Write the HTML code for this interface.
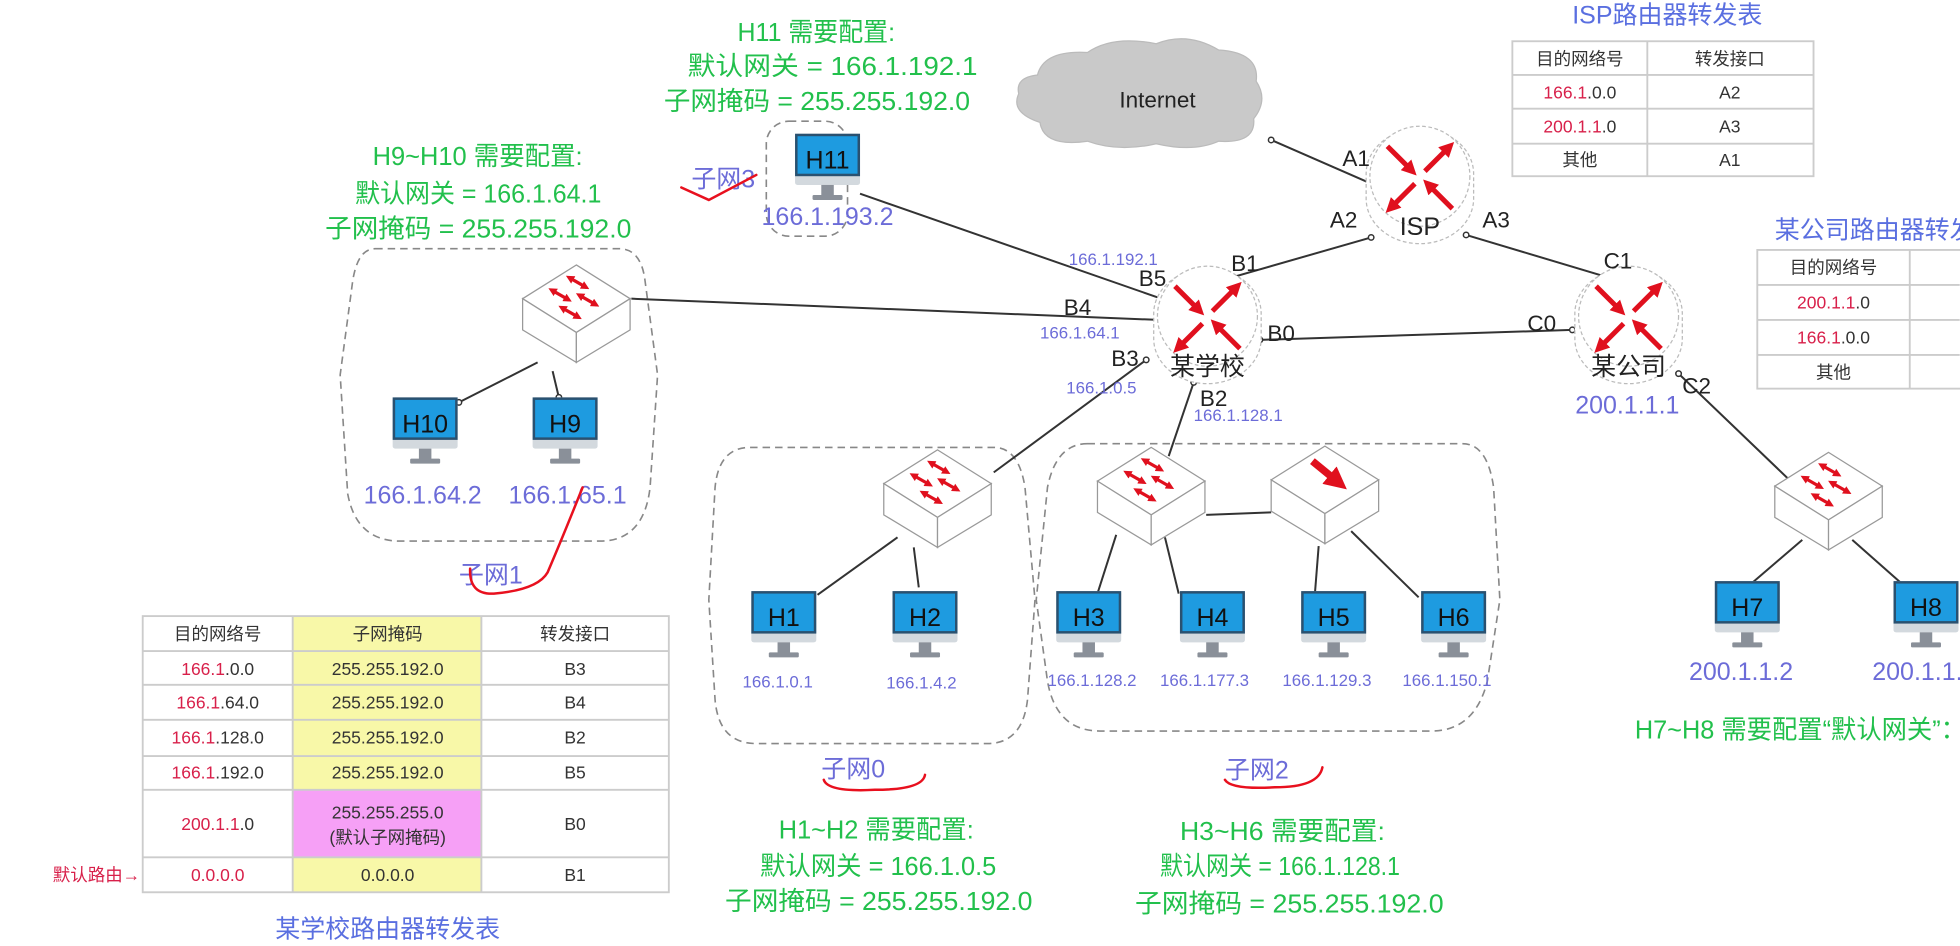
<!DOCTYPE html>
<html><head><meta charset="utf-8"><style>
html,body{margin:0;padding:0;background:#fff;}
svg{display:block;}
text{font-family:"Liberation Sans","Noto Sans CJK SC",sans-serif;}
.g{fill:#22c04c;font-size:21px;}
.b{fill:#6c6cd8;font-size:20px;}
.bs{fill:#6c6cd8;font-size:13.5px;}
.k{fill:#222;font-size:18px;}
.t{fill:#333;font-size:14px;}
.r{fill:#d8204a;}
.ttl{fill:#5a6fe0;font-size:20px;}
.ln{stroke:#333;stroke-width:1.6;fill:none;}
.dash{stroke:#888;stroke-width:1.3;stroke-dasharray:6 4;fill:none;}
.dot{fill:#fff;stroke:#333;stroke-width:1.2;}
.tb{stroke:#ccc;stroke-width:1.5;fill:none;}
</style></head><body>
<svg width="1960" height="946" viewBox="0 0 1568 757" xmlns="http://www.w3.org/2000/svg">
<defs>
<marker id="ah" viewBox="0 0 10 10" refX="6" refY="5" markerWidth="3" markerHeight="3" orient="auto-start-reverse"><path d="M0,0 L10,5 L0,10 z" fill="#e0101e"/></marker>
<marker id="ah2" viewBox="0 0 10 10" refX="6" refY="5" markerWidth="2.6" markerHeight="2.6" orient="auto-start-reverse"><path d="M0,0 L10,5 L0,10 z" fill="#e0101e"/></marker>
<g id="mon">
<rect x="0" y="0" width="52" height="41" rx="2" fill="#d3d9de"/>
<rect x="0" y="0" width="52" height="34" fill="#2a5170"/>
<rect x="2" y="2" width="48" height="30" fill="#1e9be0"/>
<rect x="21" y="41" width="10" height="9" fill="#8a9099"/>
<rect x="14" y="49" width="24" height="4" rx="1" fill="#8a9099"/>
</g>
<g id="sw">
<polygon points="0,0 43,27 0,54 -43,27" fill="#fff" stroke="#999" stroke-width="1"/>
<polygon points="-43,27 0,54 0,78 -43,52" fill="#fff" stroke="#999" stroke-width="1"/>
<polygon points="43,27 0,54 0,78 43,52" fill="#fff" stroke="#999" stroke-width="1"/>
<g stroke="#e0101e" stroke-width="2.6" marker-start="url(#ah2)" marker-end="url(#ah2)">
<line x1="-6" y1="10" x2="8" y2="18"/>
<line x1="-20" y1="20" x2="-6" y2="28"/>
<line x1="2" y1="24" x2="16" y2="32"/>
<line x1="-12" y1="34" x2="2" y2="42"/>
</g>
</g>
<g id="sw2">
<polygon points="0,0 43,27 0,54 -43,27" fill="#fff" stroke="#999" stroke-width="1"/>
<polygon points="-43,27 0,54 0,78 -43,52" fill="#fff" stroke="#999" stroke-width="1"/>
<polygon points="43,27 0,54 0,78 43,52" fill="#fff" stroke="#999" stroke-width="1"/>
<line x1="-10" y1="12" x2="12" y2="30" stroke="#e0101e" stroke-width="6" marker-end="url(#ah)"/>
</g>
<g id="rt">
<rect x="-43" y="-40" width="86" height="92" rx="43" ry="36" fill="#fff" stroke="#bbb" stroke-width="1" stroke-dasharray="3 2"/>
<circle cx="0" cy="-2" r="40" fill="#fff" stroke="#bbb" stroke-width="1" stroke-dasharray="3 2"/>
<g stroke="#e0101e" stroke-width="4" marker-end="url(#ah)">
<line x1="-26" y1="-26" x2="-6" y2="-6"/>
<line x1="4" y1="-6" x2="24" y2="-26"/>
<line x1="-4" y1="4" x2="-24" y2="24"/>
<line x1="26" y1="24" x2="6" y2="4"/>
</g>
</g>
</defs>

<text class="g" x="590" y="33" textLength="126" lengthAdjust="spacingAndGlyphs">H11 需要配置:</text>
<text class="g" x="550" y="60" textLength="232" lengthAdjust="spacingAndGlyphs">默认网关 = 166.1.192.1</text>
<text class="g" x="531" y="88" textLength="245" lengthAdjust="spacingAndGlyphs">子网掩码 = 255.255.192.0</text>
<text class="g" x="298" y="132" textLength="168" lengthAdjust="spacingAndGlyphs">H9~H10 需要配置:</text>
<text class="g" x="284" y="162" textLength="197" lengthAdjust="spacingAndGlyphs">默认网关 = 166.1.64.1</text>
<text class="g" x="260" y="190" textLength="245" lengthAdjust="spacingAndGlyphs">子网掩码 = 255.255.192.0</text>

<rect class="dash" x="613" y="97" width="65" height="92" rx="18"/>
<path class="dash" d="M300,199 L495,199 Q513,199 516,225 L526,300 L520,390 Q515,433 480,433 L320,433 Q285,433 278,395 L272,300 L282,225 Q286,199 300,199 Z"/>
<path class="dash" d="M600,358 L795,358 Q815,358 820,390 L828,480 L822,560 Q818,595 790,595 L605,595 Q575,595 572,560 L567,480 L572,390 Q575,358 600,358 Z"/>
<path class="dash" d="M870,355 L1170,355 Q1190,355 1195,390 L1200,480 L1190,545 Q1180,585 1145,585 L880,585 Q845,585 838,545 L829,480 L838,390 Q845,355 870,355 Z"/>

<path d="M830,60 Q835,40 870,42 Q890,28 925,35 Q950,25 975,40 Q1008,42 1005,65 Q1015,80 1003,95 Q1005,115 975,113 Q955,122 925,115 Q895,122 870,113 Q835,118 832,98 Q808,90 815,75 Q812,62 830,60 Z" fill="#c9c9c9" stroke="#bbb"/>
<text x="926" y="86" text-anchor="middle" font-size="18" fill="#222">Internet</text>

<line class="ln" x1="1017" y1="112" x2="1104" y2="150"/>
<line class="ln" x1="1097" y1="190" x2="968" y2="227"/>
<line class="ln" x1="1173" y1="188" x2="1300" y2="226"/>
<line class="ln" x1="688" y1="155" x2="932" y2="240"/>
<line class="ln" x1="505" y1="239" x2="927" y2="256"/>
<line class="ln" x1="1008" y1="272" x2="1258" y2="264"/>
<line class="ln" x1="917" y1="288" x2="795" y2="378"/>
<line class="ln" x1="955" y1="306" x2="935" y2="365"/>
<line class="ln" x1="1343" y1="299" x2="1440" y2="392"/>
<line class="ln" x1="430" y1="290" x2="367" y2="322"/>
<line class="ln" x1="442" y1="297" x2="447" y2="318"/>
<line class="ln" x1="718" y1="430" x2="654" y2="476"/>
<line class="ln" x1="731" y1="438" x2="735" y2="470"/>
<line class="ln" x1="965" y1="412" x2="1017" y2="410"/>
<line class="ln" x1="893" y1="428" x2="878" y2="475"/>
<line class="ln" x1="932" y1="430" x2="943" y2="475"/>
<line class="ln" x1="1055" y1="437" x2="1052" y2="475"/>
<line class="ln" x1="1081" y1="425" x2="1135" y2="478"/>
<line class="ln" x1="1442" y1="432" x2="1400" y2="468"/>
<line class="ln" x1="1482" y1="432" x2="1525" y2="470"/>

<g class="dot">
<circle cx="1017" cy="112" r="2.2"/><circle cx="1104" cy="150" r="2.2"/><circle cx="1097" cy="190" r="2.2"/><circle cx="968" cy="227" r="2.2"/>
<circle cx="1173" cy="188" r="2.2"/><circle cx="1300" cy="226" r="2.2"/><circle cx="932" cy="240" r="2.2"/><circle cx="927" cy="256" r="2.2"/>
<circle cx="1008" cy="272" r="2.2"/><circle cx="1258" cy="264" r="2.2"/><circle cx="917" cy="288" r="2.2"/><circle cx="955" cy="306" r="2.2"/>
<circle cx="1343" cy="299" r="2.2"/><circle cx="367" cy="322" r="2.2"/><circle cx="447" cy="318" r="2.2"/>
</g>

<use href="#rt" x="1136" y="143"/>
<text x="1136" y="188" text-anchor="middle" font-size="20" fill="#222">ISP</text>
<use href="#rt" x="966" y="255"/>
<text x="966" y="300" text-anchor="middle" font-size="20" fill="#222">某学校</text>
<use href="#rt" x="1303" y="255"/>
<text x="1303" y="300" text-anchor="middle" font-size="20" fill="#222">某公司</text>

<use href="#sw" x="461" y="212"/>
<use href="#sw" x="750" y="360"/>
<use href="#sw" x="921" y="358"/>
<use href="#sw2" x="1060" y="357"/>
<use href="#sw" x="1463" y="362"/>

<use href="#mon" x="636" y="107"/><text x="662" y="135" text-anchor="middle" font-size="20" fill="#111">H11</text>
<use href="#mon" x="314" y="318"/><text x="340" y="346" text-anchor="middle" font-size="20" fill="#111">H10</text>
<use href="#mon" x="426" y="318"/><text x="452" y="346" text-anchor="middle" font-size="20" fill="#111">H9</text>
<use href="#mon" x="601" y="473"/><text x="627" y="501" text-anchor="middle" font-size="20" fill="#111">H1</text>
<use href="#mon" x="714" y="473"/><text x="740" y="501" text-anchor="middle" font-size="20" fill="#111">H2</text>
<use href="#mon" x="845" y="473"/><text x="871" y="501" text-anchor="middle" font-size="20" fill="#111">H3</text>
<use href="#mon" x="944" y="473"/><text x="970" y="501" text-anchor="middle" font-size="20" fill="#111">H4</text>
<use href="#mon" x="1041" y="473"/><text x="1067" y="501" text-anchor="middle" font-size="20" fill="#111">H5</text>
<use href="#mon" x="1137" y="473"/><text x="1163" y="501" text-anchor="middle" font-size="20" fill="#111">H6</text>
<use href="#mon" x="1372" y="465"/><text x="1398" y="493" text-anchor="middle" font-size="20" fill="#111">H7</text>
<use href="#mon" x="1515" y="465"/><text x="1541" y="493" text-anchor="middle" font-size="20" fill="#111">H8</text>

<text class="k" x="1074" y="133">A1</text>
<text class="k" x="1064" y="182">A2</text>
<text class="k" x="1186" y="182">A3</text>
<text class="k" x="985" y="217">B1</text>
<text class="k" x="911" y="229">B5</text>
<text class="k" x="851" y="252">B4</text>
<text class="k" x="1014" y="273">B0</text>
<text class="k" x="1222" y="265">C0</text>
<text class="k" x="889" y="293">B3</text>
<text class="k" x="960" y="325">B2</text>
<text class="k" x="1346" y="315">C2</text>
<text class="k" x="1283" y="215">C1</text>

<text class="bs" x="855" y="212">166.1.192.1</text>
<text class="bs" x="832" y="271">166.1.64.1</text>
<text class="bs" x="853" y="315">166.1.0.5</text>
<text class="bs" x="955" y="337">166.1.128.1</text>
<text class="b" x="662" y="180" text-anchor="middle">166.1.193.2</text>
<text class="b" x="338" y="403" text-anchor="middle">166.1.64.2</text>
<text class="b" x="454" y="403" text-anchor="middle">166.1.65.1</text>
<text class="b" x="1302" y="331" text-anchor="middle">200.1.1.1</text>
<text class="b" x="1393" y="544" text-anchor="middle">200.1.1.2</text>
<text class="b" x="1498" y="544">200.1.1.3</text>
<text class="bs" x="594" y="550" font-size="14">166.1.0.1</text>
<text class="bs" x="709" y="551" font-size="14">166.1.4.2</text>
<text class="bs" x="838" y="549" font-size="14">166.1.128.2</text>
<text class="bs" x="928" y="549" font-size="14">166.1.177.3</text>
<text class="bs" x="1026" y="549" font-size="14">166.1.129.3</text>
<text class="bs" x="1122" y="549" font-size="14">166.1.150.1</text>

<text class="b" x="553" y="150">子网3</text>
<text class="b" x="367" y="467">子网1</text>
<text class="b" x="657" y="622">子网0</text>
<text class="b" x="980" y="623">子网2</text>

<g stroke="#e8101e" stroke-width="2" fill="none" stroke-linecap="round">
<path d="M545,150 L567,160 L605,140"/>
<path d="M466,390 Q450,430 438,458 Q430,472 395,475 Q375,476 376,455"/>
<path d="M659,624 Q662,634 700,632 Q738,632 740,620"/>
<path d="M980,624 Q985,632 1020,630 Q1055,630 1058,614"/>
</g>

<text class="g" x="623" y="671" textLength="156" lengthAdjust="spacingAndGlyphs">H1~H2 需要配置:</text>
<text class="g" x="608" y="700" textLength="189" lengthAdjust="spacingAndGlyphs">默认网关 = 166.1.0.5</text>
<text class="g" x="580" y="728" textLength="246" lengthAdjust="spacingAndGlyphs">子网掩码 = 255.255.192.0</text>
<text class="g" x="944" y="672" textLength="164" lengthAdjust="spacingAndGlyphs">H3~H6 需要配置:</text>
<text class="g" x="928" y="700" textLength="192" lengthAdjust="spacingAndGlyphs">默认网关 = 166.1.128.1</text>
<text class="g" x="908" y="730" textLength="247" lengthAdjust="spacingAndGlyphs">子网掩码 = 255.255.192.0</text>
<text class="g" x="1308" y="591" textLength="265" lengthAdjust="spacingAndGlyphs">H7~H8 需要配置“默认网关”：</text>

<text class="ttl" x="1334" y="19" text-anchor="middle">ISP路由器转发表</text>
<rect class="tb" x="1210" y="33" width="241" height="108"/>
<line class="tb" x1="1318" y1="33" x2="1318" y2="141"/>
<line class="tb" x1="1210" y1="60" x2="1451" y2="60"/>
<line class="tb" x1="1210" y1="87" x2="1451" y2="87"/>
<line class="tb" x1="1210" y1="115" x2="1451" y2="115"/>
<text class="t" x="1264" y="52" text-anchor="middle">目的网络号</text>
<text class="t" x="1384" y="52" text-anchor="middle">转发接口</text>
<text class="t" x="1264" y="79" text-anchor="middle"><tspan class="r">166.1</tspan>.0.0</text>
<text class="t" x="1384" y="79" text-anchor="middle">A2</text>
<text class="t" x="1264" y="106" text-anchor="middle"><tspan class="r">200.1.1</tspan>.0</text>
<text class="t" x="1384" y="106" text-anchor="middle">A3</text>
<text class="t" x="1264" y="133" text-anchor="middle">其他</text>
<text class="t" x="1384" y="133" text-anchor="middle">A1</text>

<text class="ttl" x="1420" y="191">某公司路由器转发表</text>
<rect class="tb" x="1406" y="200" width="200" height="111"/>
<line class="tb" x1="1528" y1="200" x2="1528" y2="311"/>
<line class="tb" x1="1406" y1="228" x2="1568" y2="228"/>
<line class="tb" x1="1406" y1="256" x2="1568" y2="256"/>
<line class="tb" x1="1406" y1="284" x2="1568" y2="284"/>
<text class="t" x="1467" y="219" text-anchor="middle">目的网络号</text>
<text class="t" x="1467" y="247" text-anchor="middle"><tspan class="r">200.1.1</tspan>.0</text>
<text class="t" x="1467" y="275" text-anchor="middle"><tspan class="r">166.1</tspan>.0.0</text>
<text class="t" x="1467" y="303" text-anchor="middle">其他</text>

<rect x="234" y="493" width="151" height="221" fill="#f8f8a8"/>
<rect x="234" y="632" width="151" height="54" fill="#f6a0f6"/>
<rect class="tb" x="114" y="493" width="421" height="221"/>
<line class="tb" x1="234" y1="493" x2="234" y2="714"/>
<line class="tb" x1="385" y1="493" x2="385" y2="714"/>
<line class="tb" x1="114" y1="521" x2="535" y2="521"/>
<line class="tb" x1="114" y1="548" x2="535" y2="548"/>
<line class="tb" x1="114" y1="576" x2="535" y2="576"/>
<line class="tb" x1="114" y1="605" x2="535" y2="605"/>
<line class="tb" x1="114" y1="632" x2="535" y2="632"/>
<line class="tb" x1="114" y1="686" x2="535" y2="686"/>
<text class="t" x="174" y="512" text-anchor="middle">目的网络号</text>
<text class="t" x="310" y="512" text-anchor="middle">子网掩码</text>
<text class="t" x="460" y="512" text-anchor="middle">转发接口</text>
<text class="t" x="174" y="540" text-anchor="middle"><tspan class="r">166.1</tspan>.0.0</text>
<text class="t" x="310" y="540" text-anchor="middle">255.255.192.0</text>
<text class="t" x="460" y="540" text-anchor="middle">B3</text>
<text class="t" x="174" y="567" text-anchor="middle"><tspan class="r">166.1</tspan>.64.0</text>
<text class="t" x="310" y="567" text-anchor="middle">255.255.192.0</text>
<text class="t" x="460" y="567" text-anchor="middle">B4</text>
<text class="t" x="174" y="595" text-anchor="middle"><tspan class="r">166.1</tspan>.128.0</text>
<text class="t" x="310" y="595" text-anchor="middle">255.255.192.0</text>
<text class="t" x="460" y="595" text-anchor="middle">B2</text>
<text class="t" x="174" y="623" text-anchor="middle"><tspan class="r">166.1</tspan>.192.0</text>
<text class="t" x="310" y="623" text-anchor="middle">255.255.192.0</text>
<text class="t" x="460" y="623" text-anchor="middle">B5</text>
<text class="t" x="174" y="664" text-anchor="middle"><tspan class="r">200.1.1</tspan>.0</text>
<text class="t" x="310" y="655" text-anchor="middle">255.255.255.0</text>
<text class="t" x="310" y="675" text-anchor="middle">(默认子网掩码)</text>
<text class="t" x="460" y="664" text-anchor="middle">B0</text>
<text class="t r" x="174" y="705" text-anchor="middle">0.0.0.0</text>
<text class="t" x="310" y="705" text-anchor="middle">0.0.0.0</text>
<text class="t" x="460" y="705" text-anchor="middle">B1</text>
<text x="42" y="705" font-size="14" fill="#d8204a">默认路由→</text>
<text class="ttl" x="310" y="750" text-anchor="middle">某学校路由器转发表</text>
</svg>
</body></html>
